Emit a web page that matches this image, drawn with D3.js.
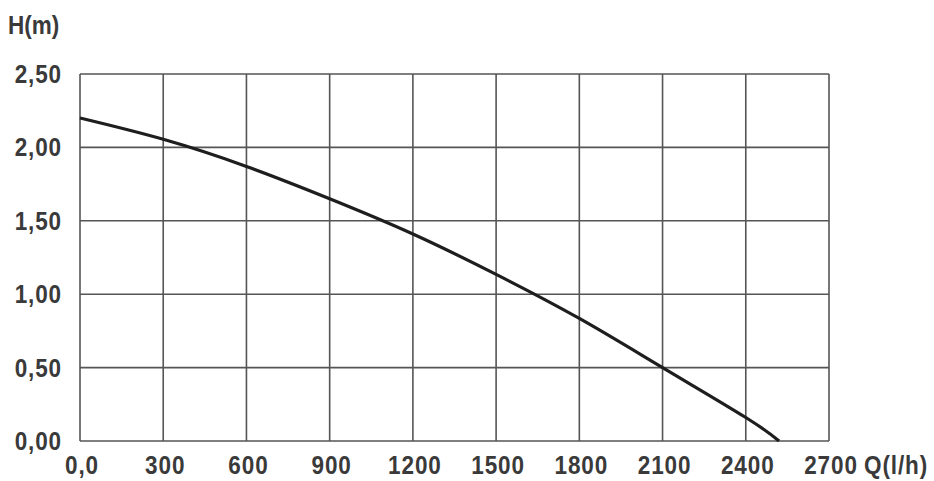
<!DOCTYPE html>
<html>
<head>
<meta charset="utf-8">
<script src="https://cdn.jsdelivr.net/npm/d3@7"></script>
<style>
  body { margin: 0; background: #fff; }
  text { font-family: "Liberation Sans", Arial, sans-serif; font-weight: bold; fill: #3a3a3a; font-size: 25px; }
</style>
</head>
<body>
<div class="chart"></div>
<script>
// pump curve
var flow = [0, 300, 600, 900, 1200, 1500, 1800, 2100, 2400, 2520];
var head = [2.20, 2.055, 1.87, 1.65, 1.41, 1.135, 0.835, 0.50, 0.16, 0.0];

var xTicks = [0, 300, 600, 900, 1200, 1500, 1800, 2100, 2400, 2700];
var xLabels = ["0,0", "300", "600", "900", "1200", "1500", "1800", "2100", "2400", "2700"];
var yTicks = [0, 0.5, 1, 1.5, 2, 2.5];
var yLabels = ["0,00", "0,50", "1,00", "1,50", "2,00", "2,50"];

var width = 934, height = 481;
var margin = {top: 74, right: 105, bottom: 40, left: 80};
var squeeze = 0.9; // the labels use a condensed face

var x = d3.scaleLinear().domain([0, 2700]).range([margin.left, width - margin.right]);
var y = d3.scaleLinear().domain([0, 2.5]).range([height - margin.bottom, margin.top]);

var svg = d3.select(".chart").append("svg")
  .attr("width", width)
  .attr("height", height);

function place(px, py) {
  return "translate(" + px + "," + py + ") scale(" + squeeze + ",1)";
}

// grid
svg.append("g").selectAll("line")
  .data(xTicks).enter().append("line")
  .attr("x1", d => x(d)).attr("x2", d => x(d))
  .attr("y1", y(0)).attr("y2", y(2.5))
  .attr("stroke", "#555").attr("stroke-width", 1.6);

svg.append("g").selectAll("line")
  .data(yTicks).enter().append("line")
  .attr("x1", x(0)).attr("x2", x(2700))
  .attr("y1", d => y(d)).attr("y2", d => y(d))
  .attr("stroke", "#555").attr("stroke-width", 1.6);

// tick labels
svg.append("g").selectAll("text")
  .data(xTicks).enter().append("text")
  .attr("transform", d => place(x(d) + 2, 474))
  .attr("text-anchor", "middle")
  .style("letter-spacing", "1px")
  .text((d, i) => xLabels[i]);

svg.append("g").selectAll("text")
  .data(yTicks).enter().append("text")
  .attr("transform", d => place(62, y(d)))
  .attr("dy", "0.36em")
  .attr("text-anchor", "end")
  .style("letter-spacing", "1px")
  .text((d, i) => yLabels[i]);

// axis titles
svg.append("text").attr("transform", place(8, 34)).text("H(m)");
svg.append("text").attr("transform", place(864, 474)).style("letter-spacing", "1px").text("Q(l/h)");

// curve
var line = d3.line()
  .x(d => x(d[0]))
  .y(d => y(d[1]))
  .curve(d3.curveNatural);

svg.append("path")
  .datum(d3.zip(flow, head))
  .attr("d", line)
  .attr("fill", "none")
  .attr("stroke", "#1e1e1e")
  .attr("stroke-width", 3.2);
</script>
</body>
</html>
